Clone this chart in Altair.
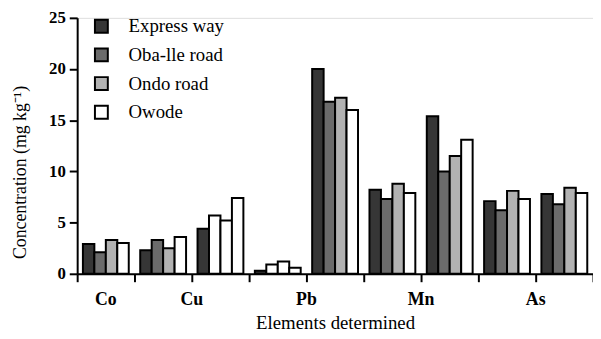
import altair as alt
import pandas as pd

series = ["Express way", "Oba-lle road", "Ondo road", "Owode"]
bands = ["1", "2", "3", "4", "5", "6", "7", "8", "9"]
express_way = [2.9, 2.3, 4.4, 0.3, 20.0, 8.2, 15.4, 7.1, 7.8]
oba_lle_road = [2.1, 3.3, 5.7, 0.9, 16.8, 7.3, 10.0, 6.2, 6.8]
ondo_road = [3.3, 2.5, 5.2, 1.2, 17.2, 8.8, 11.5, 8.1, 8.4]
owode = [3.0, 3.6, 7.4, 0.6, 16.0, 7.9, 13.1, 7.3, 7.9]
# bars that are printed with a white fill in the source figure
white_bands = ["3", "4"]
white_series = ["Oba-lle road", "Ondo road"]
colors = ["#363636", "#6b6b6b", "#b2b2b2", "#ffffff"]

center_labels = ["Co"]
center_bands = ["1"]
edge_labels = ["Cu", "Pb", "Mn", "As"]
edge_bands = ["3", "5", "7", "9"]

values = {"Express way": express_way, "Oba-lle road": oba_lle_road,
          "Ondo road": ondo_road, "Owode": owode}
rows = []
for s in series:
    for b, v in zip(bands, values[s]):
        fk = "Owode" if (b in white_bands and s in white_series) else s
        rows.append({"band": b, "series": s, "value": v, "fillkey": fk})
df = pd.DataFrame(rows)

FONT = "Liberation Serif"
XTITLE = "Elements determined"

x_axis = alt.Axis(title=XTITLE, labels=False, tickBand="extent",
                  tickSize=8, tickWidth=2, tickColor="black",
                  domainColor="black", domainWidth=2,
                  titleFont=FONT, titleFontSize=19, titleFontWeight="normal",
                  titleColor="black", titlePadding=31)

bars = alt.Chart(df).mark_bar(stroke="black", strokeWidth=2).encode(
    x=alt.X("band:N", sort=bands,
            scale=alt.Scale(paddingInner=0, paddingOuter=0),
            axis=x_axis),
    xOffset=alt.XOffset("series:N", sort=series,
                        scale=alt.Scale(paddingInner=0, paddingOuter=0.5)),
    y=alt.Y("value:Q", scale=alt.Scale(domain=[0, 25], nice=False),
            axis=alt.Axis(title="Concentration (mg kg\u207b\u00b9)", values=[0, 5, 10, 15, 20, 25],
                          grid=False, tickSize=8, tickWidth=2, tickColor="black",
                          domainColor="black", domainWidth=2,
                          labelFont=FONT, labelFontSize=17, labelFontWeight="bold",
                          labelColor="black", labelPadding=4,
                          titleFont=FONT, titleFontSize=18, titleFontWeight="normal",
                          titleColor="black", titleX=-57, titleY=156,
                          titleAngle=-90, titleAlign="center", titleBaseline="middle")),
    fill=alt.Fill("fillkey:N",
                  scale=alt.Scale(domain=series, range=colors),
                  legend=alt.Legend(title=None, orient="none", legendX=15, legendY=-1,
                                    padding=0, rowPadding=6, labelOffset=18,
                                    symbolType="square", symbolSize=170,
                                    symbolStrokeColor="black", symbolStrokeWidth=2,
                                    symbolOpacity=1, symbolFillColor="white",
                                    labelFont=FONT, labelFontSize=19, labelColor="black",
                                    values=series)),
)

center_df = pd.DataFrame({"band": center_bands, "label": center_labels})
edge_df = pd.DataFrame({"band": edge_bands, "label": edge_labels})

text_kw = dict(dy=27, baseline="middle", align="center", fontSize=18,
               fontWeight="bold", font=FONT, color="black")

center_text = alt.Chart(center_df).mark_text(**text_kw).encode(
    x=alt.X("band:N", sort=bands, bandPosition=0.5, title=XTITLE),
    y=alt.datum(0),
    text="label:N",
)
edge_text = alt.Chart(edge_df).mark_text(**text_kw).encode(
    x=alt.X("band:N", sort=bands, bandPosition=0, title=XTITLE),
    y=alt.datum(0),
    text="label:N",
)

chart = alt.layer(bars, center_text, edge_text).properties(
    width=522, height=259, autosize="none",
    padding={"left": 70, "top": 8, "right": 0, "bottom": 64},
).configure_view(stroke=None).configure(font=FONT)

chart.save("out.html", embed_options={"renderer": "svg", "actions": False})
